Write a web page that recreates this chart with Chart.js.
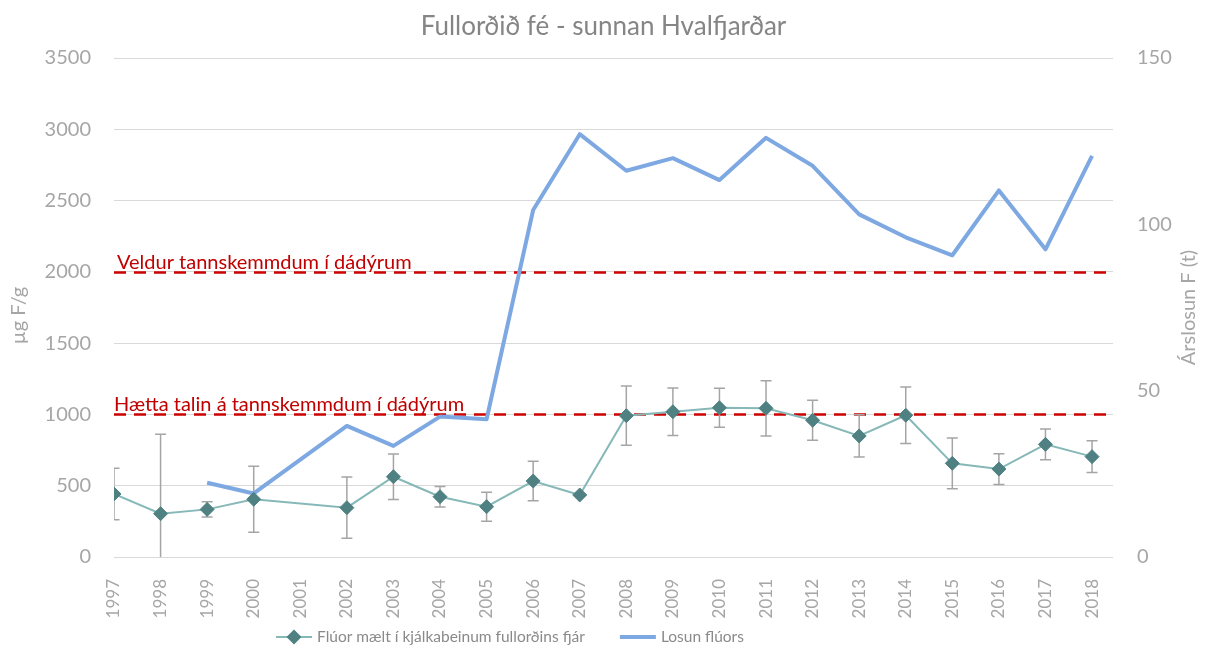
<!DOCTYPE html>
<html>
<head>
<meta charset="utf-8">
<script src="https://cdn.jsdelivr.net/npm/chart.js@4/dist/chart.umd.min.js"></script>
<style>
  html, body { margin: 0; padding: 0; background: #ffffff; }
  canvas { display: block; }
</style>
</head>
<body>
<canvas id="chart" width="1207" height="650"></canvas>
<script>
// Years on the category axis
const years = [1997, 1998, 1999, 2000, 2001, 2002, 2003, 2004, 2005, 2006, 2007,
               2008, 2009, 2010, 2011, 2012, 2013, 2014, 2015, 2016, 2017, 2018];

// Fluoride in jawbones of adult sheep (µg F/g), mean per year
const sheepFluoride = [442, 304, 334, 405, null, 346, 563, 423, 353, 533, 435,
                       991, 1019, 1047, 1043, 959, 849, 994, 657, 617, 790, 704];

// Spread around the mean (±, µg F/g)
const sheepFluorideErr = [181, 557, 54, 231, null, 215, 159, 72, 102, 138, null,
                          208, 166, 137, 194, 140, 148, 198, 178, 108, 108, 112];

// Yearly fluoride emission (tonnes)
const fluorideEmission = [null, null, 22.3, 19.1, null, 39.4, 33.4, 42.2, 41.4, 104.3, 127.1,
                          116.1, 119.9, 113.3, 126.0, 117.6, 103.0, 96.1, 90.7, 110.2, 92.5, 120.6];

// Reference levels for deer (µg F/g) and their captions
const thresholdValues = [2000, 1000];
const thresholdLabels = ['Veldur tannskemmdum í dádýrum', 'Hætta talin á tannskemmdum í dádýrum'];

// Axis texts
const chartTitle = 'Fullorðið fé - sunnan Hvalfjarðar';
const leftAxisTitle = 'µg F/g';
const rightAxisTitle = 'Árslosun F (t)';
const seriesNames = ['Flúor mælt í kjálkabeinum fullorðins fjár', 'Losun flúors'];

const FONT = 'Lato, "Open Sans", sans-serif';
const GREY = '#A6A6A6';
const RED = '#CC0000';
const TEAL_LINE = '#86B8B8';
const TEAL_MARK = '#4F8082';
const BLUE = '#7EA8E2';

// Dashed reference lines with captions, drawn under the series
const thresholdPlugin = {
  id: 'thresholds',
  beforeDatasetsDraw(chart) {
    const { ctx, chartArea, scales } = chart;
    const y = scales.y;
    ctx.save();
    thresholdValues.forEach((v, i) => {
      const py = Math.round(y.getPixelForValue(v)) + 0.5;
      ctx.strokeStyle = RED;
      ctx.lineWidth = 2.5;
      ctx.setLineDash([12, 8]);
      ctx.beginPath();
      ctx.moveTo(chartArea.left, py);
      ctx.lineTo(chartArea.right, py);
      ctx.stroke();
      ctx.setLineDash([]);
      ctx.fillStyle = '#C00000';
      ctx.font = '20px ' + FONT;
      ctx.textAlign = 'left';
      ctx.textBaseline = 'alphabetic';
      ctx.fillText(thresholdLabels[i], chartArea.left + (i === 0 ? 3 : 0), py - 4);
    });
    ctx.restore();
  }
};

// Vertical spread bars with caps around each sheep mean
const errorBarPlugin = {
  id: 'errorBars',
  beforeDatasetsDraw(chart) {
    const { ctx, chartArea, scales } = chart;
    const x = scales.x, y = scales.y;
    ctx.save();
    ctx.beginPath();
    ctx.rect(chartArea.left, chartArea.top, chartArea.width, chartArea.height);
    ctx.clip();
    ctx.strokeStyle = '#A5A5A5';
    ctx.lineWidth = 1.5;
    years.forEach((yr, i) => {
      const v = sheepFluoride[i], e = sheepFluorideErr[i];
      if (v == null || !e) return;
      const px = x.getPixelForValue(yr);
      const top = y.getPixelForValue(v + e);
      const bot = y.getPixelForValue(v - e);
      ctx.beginPath();
      ctx.moveTo(px, top); ctx.lineTo(px, bot);
      ctx.moveTo(px - 5.5, top); ctx.lineTo(px + 5.5, top);
      ctx.moveTo(px - 5.5, bot); ctx.lineTo(px + 5.5, bot);
      ctx.stroke();
    });
    ctx.restore();
  }
};

// Axis titles, both reading bottom to top
const axisTitlePlugin = {
  id: 'axisTitles',
  afterDraw(chart) {
    const { ctx, chartArea } = chart;
    const cy = (chartArea.top + chartArea.bottom) / 2;
    ctx.save();
    ctx.fillStyle = GREY;
    ctx.font = '20px ' + FONT;
    ctx.textAlign = 'center';
    ctx.textBaseline = 'middle';
    [[19, cy + 8, leftAxisTitle], [1189, cy, rightAxisTitle]].forEach(([tx, ty, t]) => {
      ctx.save();
      ctx.translate(tx, ty);
      ctx.rotate(-Math.PI / 2);
      ctx.fillText(t, 0, 0);
      ctx.restore();
    });
    ctx.restore();
  }
};

// Legend: line sample (with marker for the sheep series) followed by the name
const legendPlugin = {
  id: 'bottomLegend',
  afterDraw(chart) {
    const { ctx } = chart;
    const ly = 637;
    let lx = 276;
    ctx.save();
    ctx.font = '15.5px ' + FONT;
    ctx.textBaseline = 'middle';
    ctx.textAlign = 'left';
    chart.data.datasets.forEach((ds) => {
      ctx.strokeStyle = ds.borderColor;
      ctx.lineWidth = ds.borderWidth;
      ctx.beginPath();
      ctx.moveTo(lx, ly);
      ctx.lineTo(lx + 36, ly);
      ctx.stroke();
      if (ds.pointRadius > 0) {
        const r = 7.5;
        const cx = lx + 18;
        ctx.fillStyle = ds.pointBackgroundColor;
        ctx.beginPath();
        ctx.moveTo(cx - r, ly); ctx.lineTo(cx, ly - r);
        ctx.lineTo(cx + r, ly); ctx.lineTo(cx, ly + r);
        ctx.closePath();
        ctx.fill();
      }
      ctx.fillStyle = '#8A8A8A';
      ctx.fillText(ds.label, lx + 41, ly);
      lx += 41 + ctx.measureText(ds.label).width + 35;
    });
    ctx.restore();
  }
};

const ctx = document.getElementById('chart').getContext('2d');
new Chart(ctx, {
  type: 'line',
  data: {
    datasets: [
      {
        label: seriesNames[0],
        data: years.map((yr, i) => ({ x: yr, y: sheepFluoride[i] })),
        yAxisID: 'y',
        borderColor: TEAL_LINE,
        borderWidth: 2,
        pointStyle: 'rectRot',
        pointRadius: 7,
        pointBackgroundColor: TEAL_MARK,
        pointBorderColor: TEAL_MARK,
        pointBorderWidth: 1,
        spanGaps: true,
        tension: 0
      },
      {
        label: seriesNames[1],
        data: years.map((yr, i) => ({ x: yr, y: fluorideEmission[i] })),
        yAxisID: 'y1',
        borderColor: BLUE,
        borderWidth: 4,
        pointRadius: 0,
        spanGaps: true,
        tension: 0,
        borderJoinStyle: 'round'
      }
    ]
  },
  options: {
    responsive: false,
    animation: false,
    devicePixelRatio: 1,
    layout: { padding: 0 },
    plugins: {
      legend: { display: false },
      tooltip: { enabled: false },
      title: {
        display: true,
        text: chartTitle,
        color: '#858585',
        font: { family: FONT, size: 26, weight: 'normal' },
        padding: { top: 11, bottom: 15.8 }
      }
    },
    scales: {
      x: {
        type: 'linear',
        min: years[0],
        max: years[years.length - 1] + 0.45,
        grid: { display: false },
        border: { display: false },
        ticks: {
          stepSize: 1,
          autoSkip: false,
          minRotation: 90,
          maxRotation: 90,
          color: GREY,
          padding: 14,
          font: { family: FONT, size: 17 },
          callback: (v) => String(v)
        },
        afterBuildTicks: (scale) => {
          scale.ticks = scale.ticks.filter((t) => Number.isInteger(t.value));
        },
        afterFit: (scale) => { scale.height = 93; }
      },
      y: {
        position: 'left',
        min: 0,
        max: 3500,
        grid: { color: '#D9D9D9', lineWidth: 1, drawTicks: false },
        border: { display: false },
        ticks: {
          stepSize: 500,
          color: GREY,
          padding: 23,
          font: { family: FONT, size: 20 },
          callback: (v) => String(v)
        },
        afterFit: (scale) => { scale.width = 114; }
      },
      y1: {
        position: 'right',
        min: 0,
        max: 150,
        grid: { display: false, drawTicks: false },
        border: { display: false },
        ticks: {
          stepSize: 50,
          color: GREY,
          padding: 24,
          font: { family: FONT, size: 20 },
          callback: (v) => String(v)
        },
        afterFit: (scale) => { scale.width = 94; }
      }
    }
  },
  plugins: [thresholdPlugin, errorBarPlugin, axisTitlePlugin, legendPlugin]
});
</script>
</body>
</html>
